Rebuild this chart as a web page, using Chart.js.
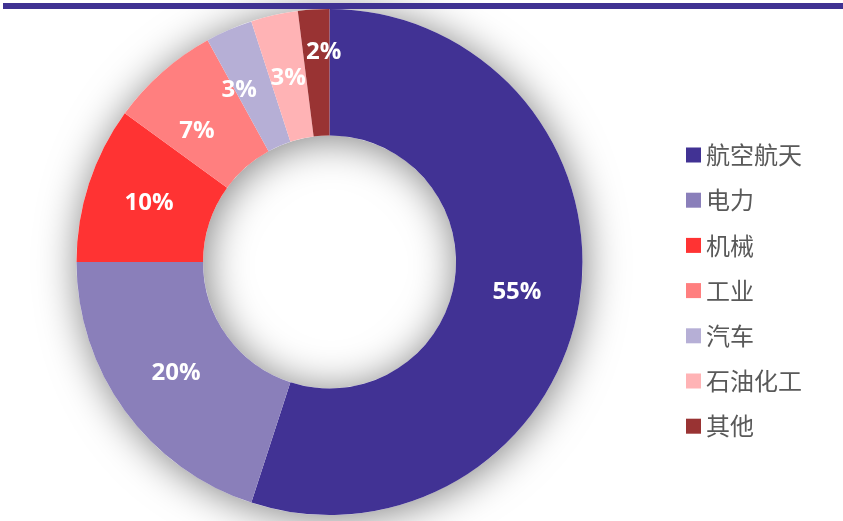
<!DOCTYPE html>
<html>
<head>
<meta charset="utf-8">
<script src="https://cdn.jsdelivr.net/npm/chart.js@4"></script>
<style>
  html, body { margin: 0; padding: 0; background: #fff; }
  #wrap { position: relative; width: 843px; height: 521px; }
  #topbar { position: absolute; left: 3px; top: 3px; width: 840px; height: 6px; background: #3F3292; }
  canvas { position: absolute; left: 0; top: 0; }
</style>
</head>
<body>
<div id="wrap">
  <canvas id="pie" width="843" height="521"></canvas>
  <div id="topbar"></div>
</div>
<script>
const categories = ['航空航天', '电力', '机械', '工业', '汽车', '石油化工', '其他'];
const shares = [55, 20, 10, 7, 3, 3, 2];
const colors = ['#413294', '#8A7FBA', '#FF3333', '#FF7F7F', '#B6AFD6', '#FFB3B5', '#993333'];

// soft shadow under the whole ring (also gives the grey rim inside the hole)
const ringShadow = {
  id: 'ringShadow',
  beforeDatasetsDraw(chart) {
    const arc = chart.getDatasetMeta(0).data[0];
    if (!arc) return;
    const { x, y, outerRadius, innerRadius } = arc.getProps(['x', 'y', 'outerRadius', 'innerRadius'], true);
    const ctx = chart.ctx;
    ctx.save();
    ctx.shadowColor = 'rgba(0,0,0,0.5)';
    ctx.shadowBlur = 40;
    ctx.shadowOffsetX = 2;
    ctx.shadowOffsetY = 3;
    ctx.fillStyle = '#fff';
    ctx.beginPath();
    ctx.arc(x, y, outerRadius, 0, Math.PI * 2);
    ctx.arc(x, y, innerRadius, 0, Math.PI * 2, true);
    ctx.fill();
    ctx.restore();
  }
};

// small slices get their labels nudged a bit, like the original
const labelNudge = [[0, 0], [0, 0], [0, 0], [-7, 11], [-15, 2], [0, 1], [6, -20]];

const sliceLabels = {
  id: 'sliceLabels',
  afterDatasetsDraw(chart) {
    const ctx = chart.ctx;
    ctx.save();
    ctx.font = 'bold 24px "Open Sans"';
    ctx.fillStyle = '#fff';
    ctx.textAlign = 'center';
    ctx.textBaseline = 'middle';
    chart.getDatasetMeta(0).data.forEach((el, i) => {
      const p = el.tooltipPosition();
      ctx.fillText(shares[i] + '%', p.x + labelNudge[i][0], p.y + labelNudge[i][1]);
    });
    ctx.restore();
  }
};

const sideLegend = {
  id: 'sideLegend',
  afterDraw(chart) {
    const ctx = chart.ctx;
    ctx.save();
    ctx.font = '24px "Noto Sans CJK SC"';
    ctx.textBaseline = 'middle';
    chart.data.labels.forEach((label, i) => {
      const y = 155 + i * 45.2;
      ctx.fillStyle = chart.data.datasets[0].backgroundColor[i];
      ctx.fillRect(686, y - 7.5, 15, 15);
      ctx.fillStyle = '#595959';
      ctx.fillText(label, 706, y);
    });
    ctx.restore();
  }
};

new Chart(document.getElementById('pie'), {
  type: 'doughnut',
  data: {
    labels: categories,
    datasets: [{
      data: shares,
      backgroundColor: colors,
      borderWidth: 0
    }]
  },
  options: {
    responsive: false,
    animation: false,
    cutout: '50%',
    layout: { padding: { left: 76, right: 260, top: 9, bottom: 6 } },
    plugins: {
      legend: { display: false },
      tooltip: { enabled: false }
    }
  },
  plugins: [ringShadow, sliceLabels, sideLegend]
});
</script>
</body>
</html>
